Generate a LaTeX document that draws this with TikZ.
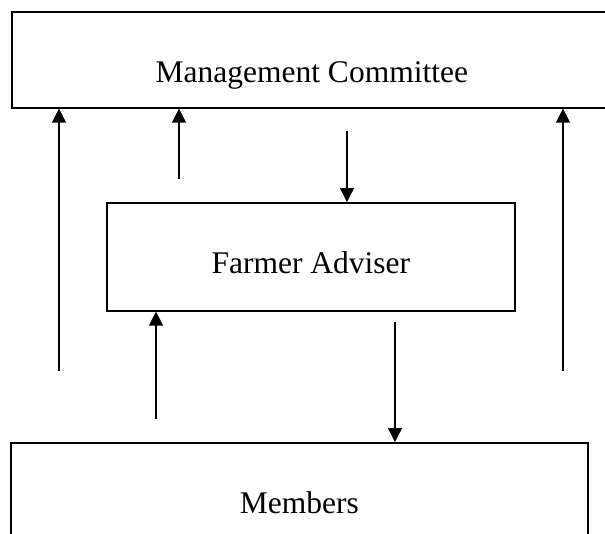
\documentclass[tikz,border=0pt]{standalone}
\usepackage{fontspec}
\setmainfont{Liberation Serif}
\usetikzlibrary{arrows.meta}

\begin{document}
\begin{tikzpicture}[x=1pt,y=-1pt,
    box/.style={draw,line width=1.6pt,anchor=north west,inner xsep=0pt,inner ysep=0pt,
        text height=71pt,font=\fontsize{31.5}{36}\selectfont},
    flow/.style={line width=1.4pt,-{Triangle[length=14pt,width=14pt]}}]
    \useasboundingbox (0,0) rectangle (605,533);
    % boxes
    \node [box,minimum width=600pt,text depth=25pt] (mc) at (11,11) {Management Committee};
    \node [box,minimum width=408pt,text depth=37pt] (fa) at (106,202) {Farmer Adviser};
    \node [box,minimum width=577pt,text depth=120pt] (mem) at (10,442) {Members};
    % arrows up to the committee
    \foreach \x/\y in {59/371,179/179,563/371} {
        \coordinate (up\x) at (\x,\y);
        \draw [flow] (up\x) -- (up\x |- mc.south);
    }
    % arrows to and from the adviser
    \coordinate (down1) at (347,131);
    \draw [flow] (down1) -- (down1 |- fa.north);
    \coordinate (up2) at (156,419);
    \draw [flow] (up2) -- (up2 |- fa.south);
    \coordinate (down2) at (395,322);
    \draw [flow] (down2) -- (down2 |- mem.north);
\end{tikzpicture}
\end{document}
